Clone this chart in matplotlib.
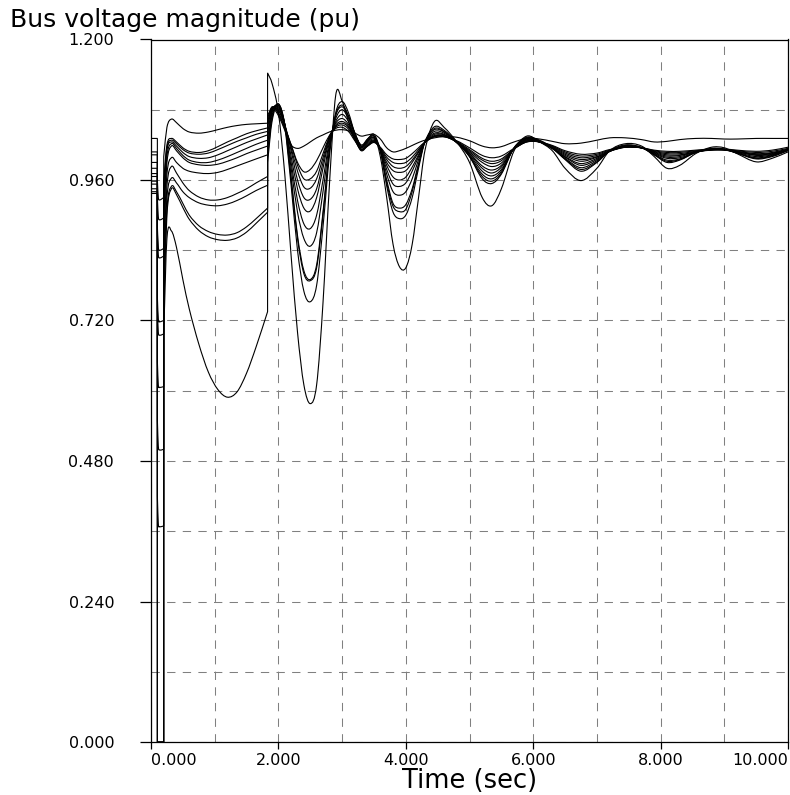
import numpy as np
import matplotlib
matplotlib.use("Agg")
import matplotlib.pyplot as plt
from matplotlib.path import Path
from matplotlib.patches import PathPatch
from matplotlib.ticker import MultipleLocator, FormatStrFormatter

# ---------------------------------------------------------------------------
# Simulation time base (s): pre-fault | fault on | fault cleared | after switching
# ---------------------------------------------------------------------------
t_prefault = [0.0, 0.1]
t_fault = [0.1, 0.115, 0.135, 0.2]
t_cleared = [0.2, 0.25, 0.32, 0.4, 0.5, 0.6, 0.75, 0.9, 1.05, 1.2, 1.35, 1.5, 1.65, 1.83]
t_switched = [1.83, 1.9, 2.0, 2.1, 2.2, 2.3, 2.4, 2.5, 2.6, 2.7,
              2.8, 2.9, 3.0, 3.1, 3.2, 3.3, 3.4, 3.5, 3.6, 3.7,
              3.8, 3.9, 4.0, 4.1, 4.2, 4.3, 4.45, 4.6, 4.8, 5.0,
              5.2, 5.35, 5.5, 5.7, 5.9, 6.1, 6.3, 6.5, 6.75, 7.0,
              7.2, 7.45, 7.7, 7.9, 8.1, 8.3, 8.55, 8.8, 9.0, 9.2,
              9.5, 9.75, 10.0]

# ---------------------------------------------------------------------------
# Bus voltage magnitudes (pu), same layout as the time base above
# ---------------------------------------------------------------------------
bus_01 = ([1.031, 1.031] +
          [0.960, 0.930, 0.926, 0.930] +
          [1.000, 1.050, 1.064, 1.058, 1.048, 1.042, 1.040, 1.042, 1.046, 1.050, 1.053, 1.055, 1.056, 1.057] +
          [1.070, 1.083, 1.070, 1.045, 1.020, 1.014, 1.018, 1.025, 1.032, 1.037,
           1.042, 1.045, 1.046, 1.044, 1.040, 1.035, 1.037, 1.038, 1.030, 1.015,
           1.008, 1.010, 1.014, 1.019, 1.024, 1.028, 1.032, 1.034, 1.033, 1.027,
           1.018, 1.015, 1.017, 1.025, 1.031, 1.030, 1.026, 1.022, 1.023, 1.028,
           1.032, 1.032, 1.029, 1.025, 1.026, 1.029, 1.031, 1.031, 1.030, 1.030,
           1.031, 1.031, 1.031])

bus_02 = ([1.008, 1.008] +
          [0.930, 0.897, 0.892, 0.895] +
          [0.960, 1.020, 1.031, 1.025, 1.015, 1.009, 1.007, 1.010, 1.017, 1.025, 1.032, 1.039, 1.044, 1.049] +
          [1.065, 1.085, 1.073, 1.048, 1.020, 0.990, 0.974, 0.978, 0.993, 1.015,
           1.036, 1.048, 1.050, 1.043, 1.027, 1.012, 1.018, 1.024, 1.016, 1.003,
           0.996, 0.995, 0.997, 1.005, 1.015, 1.025, 1.034, 1.034, 1.027, 1.015,
           1.002, 0.998, 1.001, 1.014, 1.025, 1.025, 1.019, 1.010, 1.004, 1.006,
           1.012, 1.016, 1.015, 1.011, 1.009, 1.009, 1.011, 1.013, 1.013, 1.011,
           1.009, 1.011, 1.016])

bus_03 = ([1.003, 1.003] +
          [0.880, 0.845, 0.840, 0.843] +
          [0.950, 1.015, 1.028, 1.022, 1.012, 1.006, 1.004, 1.006, 1.012, 1.019, 1.026, 1.032, 1.038, 1.043] +
          [1.060, 1.084, 1.075, 1.050, 1.020, 0.985, 0.962, 0.962, 0.975, 1.005,
           1.034, 1.050, 1.054, 1.047, 1.029, 1.010, 1.018, 1.025, 1.015, 0.999,
           0.990, 0.988, 0.990, 0.999, 1.012, 1.024, 1.034, 1.034, 1.026, 1.012,
           0.997, 0.992, 0.996, 1.013, 1.025, 1.025, 1.018, 1.008, 1.001, 1.004,
           1.011, 1.016, 1.015, 1.010, 1.007, 1.007, 1.010, 1.012, 1.012, 1.010,
           1.007, 1.009, 1.014])

bus_04 = ([0.990, 0.990] +
          [0.870, 0.832, 0.827, 0.830] +
          [0.930, 1.010, 1.025, 1.018, 1.007, 1.000, 0.997, 0.998, 1.003, 1.010, 1.017, 1.024, 1.030, 1.037] +
          [1.055, 1.083, 1.078, 1.053, 1.015, 0.975, 0.948, 0.946, 0.962, 0.998,
           1.033, 1.052, 1.057, 1.050, 1.030, 1.011, 1.019, 1.026, 1.014, 0.995,
           0.983, 0.980, 0.983, 0.994, 1.009, 1.024, 1.035, 1.035, 1.025, 1.010,
           0.994, 0.988, 0.993, 1.013, 1.026, 1.025, 1.017, 1.006, 0.998, 1.002,
           1.010, 1.016, 1.015, 1.009, 1.005, 1.005, 1.009, 1.011, 1.011, 1.009,
           1.005, 1.007, 1.013])

bus_05 = ([0.980, 0.980] +
          [0.760, 0.722, 0.718, 0.720] +
          [0.910, 1.000, 1.022, 1.014, 1.002, 0.994, 0.990, 0.990, 0.994, 1.000, 1.007, 1.014, 1.021, 1.028] +
          [1.050, 1.082, 1.080, 1.055, 1.010, 0.960, 0.930, 0.927, 0.945, 0.990,
           1.032, 1.054, 1.060, 1.052, 1.031, 1.012, 1.020, 1.027, 1.013, 0.990,
           0.976, 0.973, 0.976, 0.990, 1.007, 1.024, 1.036, 1.036, 1.025, 1.008,
           0.990, 0.983, 0.989, 1.013, 1.027, 1.025, 1.016, 1.004, 0.995, 1.000,
           1.009, 1.016, 1.015, 1.008, 1.003, 1.003, 1.008, 1.011, 1.011, 1.008,
           1.004, 1.006, 1.012])

bus_06 = ([0.971, 0.971] +
          [0.740, 0.700, 0.695, 0.697] +
          [0.890, 0.990, 1.018, 1.010, 0.998, 0.990, 0.986, 0.985, 0.987, 0.992, 0.998, 1.005, 1.011, 1.018] +
          [1.040, 1.080, 1.083, 1.055, 1.000, 0.945, 0.912, 0.907, 0.930, 0.980,
           1.030, 1.057, 1.065, 1.055, 1.033, 1.013, 1.022, 1.028, 1.012, 0.985,
           0.965, 0.960, 0.965, 0.982, 1.003, 1.024, 1.038, 1.037, 1.024, 1.006,
           0.984, 0.977, 0.985, 1.013, 1.028, 1.025, 1.015, 1.002, 0.992, 0.999,
           1.009, 1.017, 1.015, 1.007, 1.001, 1.002, 1.008, 1.012, 1.012, 1.008,
           1.003, 1.005, 1.012])

bus_07 = ([0.966, 0.966] +
          [0.650, 0.610, 0.606, 0.607] +
          [0.860, 0.970, 0.998, 0.990, 0.980, 0.975, 0.972, 0.971, 0.973, 0.978, 0.984, 0.990, 0.996, 1.003] +
          [1.030, 1.078, 1.085, 1.055, 0.990, 0.925, 0.885, 0.877, 0.900, 0.960,
           1.025, 1.060, 1.072, 1.060, 1.035, 1.015, 1.024, 1.030, 1.012, 0.978,
           0.953, 0.949, 0.955, 0.975, 1.000, 1.025, 1.040, 1.038, 1.024, 1.005,
           0.980, 0.972, 0.982, 1.014, 1.029, 1.025, 1.014, 1.000, 0.988, 0.997,
           1.009, 1.017, 1.015, 1.006, 0.999, 1.000, 1.008, 1.012, 1.012, 1.008,
           1.002, 1.004, 1.012])

bus_08 = ([0.958, 0.958] +
          [0.550, 0.505, 0.499, 0.500] +
          [0.830, 0.950, 0.983, 0.972, 0.955, 0.942, 0.931, 0.926, 0.926, 0.930, 0.937, 0.945, 0.955, 0.966] +
          [1.020, 1.075, 1.087, 1.055, 0.980, 0.905, 0.860, 0.847, 0.870, 0.940,
           1.020, 1.065, 1.080, 1.065, 1.038, 1.017, 1.026, 1.032, 1.012, 0.970,
           0.940, 0.934, 0.940, 0.962, 0.995, 1.025, 1.043, 1.040, 1.024, 1.003,
           0.975, 0.967, 0.978, 1.014, 1.030, 1.025, 1.014, 0.999, 0.985, 0.995,
           1.009, 1.018, 1.015, 1.005, 0.997, 0.998, 1.007, 1.012, 1.012, 1.007,
           1.000, 1.003, 1.011])

bus_09 = ([0.953, 0.953] +
          [0.420, 0.373, 0.368, 0.369] +
          [0.800, 0.930, 0.963, 0.955, 0.940, 0.930, 0.921, 0.917, 0.916, 0.919, 0.925, 0.933, 0.942, 0.951] +
          [1.010, 1.070, 1.088, 1.055, 0.965, 0.865, 0.805, 0.790, 0.815, 0.905,
           1.010, 1.070, 1.085, 1.068, 1.040, 1.018, 1.027, 1.033, 1.010, 0.960,
           0.920, 0.912, 0.918, 0.945, 0.988, 1.025, 1.046, 1.042, 1.024, 1.001,
           0.970, 0.962, 0.975, 1.015, 1.031, 1.026, 1.014, 0.997, 0.981, 0.993,
           1.009, 1.018, 1.015, 1.004, 0.994, 0.996, 1.007, 1.013, 1.012, 1.006,
           0.998, 1.002, 1.011])

bus_10 = ([0.945, 0.945] +
          [0.000, 0.000, 0.000, 0.000] +
          [0.760, 0.910, 0.949, 0.940, 0.920, 0.900, 0.882, 0.872, 0.867, 0.866, 0.870, 0.880, 0.894, 0.912] +
          [1.000, 1.065, 1.090, 1.055, 0.960, 0.860, 0.800, 0.788, 0.810, 0.900,
           1.010, 1.072, 1.088, 1.070, 1.040, 1.018, 1.028, 1.035, 1.010, 0.955,
           0.915, 0.906, 0.910, 0.940, 0.985, 1.025, 1.048, 1.043, 1.024, 1.000,
           0.966, 0.958, 0.972, 1.015, 1.032, 1.027, 1.014, 0.996, 0.978, 0.991,
           1.009, 1.019, 1.015, 1.003, 0.992, 0.995, 1.007, 1.013, 1.012, 1.006,
           0.997, 1.001, 1.011])

bus_11 = ([0.937, 0.937] +
          [0.000, 0.000, 0.000, 0.000] +
          [0.740, 0.900, 0.945, 0.935, 0.913, 0.893, 0.874, 0.863, 0.858, 0.857, 0.861, 0.871, 0.886, 0.905] +
          [0.990, 1.060, 1.090, 1.050, 0.950, 0.840, 0.770, 0.752, 0.780, 0.880,
           1.000, 1.075, 1.094, 1.075, 1.040, 1.020, 1.030, 1.038, 1.010, 0.950,
           0.905, 0.894, 0.900, 0.930, 0.980, 1.025, 1.051, 1.045, 1.025, 1.000,
           0.962, 0.954, 0.970, 1.015, 1.033, 1.028, 1.015, 0.995, 0.975, 0.990,
           1.010, 1.020, 1.016, 1.003, 0.990, 0.994, 1.007, 1.014, 1.013, 1.006,
           0.996, 1.000, 1.010])

bus_12 = ([0.940, 0.940] +
          [0.000, 0.000, 0.000, 0.000] +
          [0.700, 0.860, 0.873, 0.845, 0.790, 0.740, 0.680, 0.632, 0.602, 0.589, 0.598, 0.630, 0.675, 0.735] +
          [1.143, 1.125, 1.075, 0.970, 0.830, 0.700, 0.610, 0.578, 0.610, 0.750,
           0.950, 1.105, 1.095, 1.060, 1.030, 1.015, 1.030, 1.035, 1.000, 0.930,
           0.850, 0.812, 0.810, 0.850, 0.930, 1.010, 1.060, 1.050, 1.025, 0.990,
           0.930, 0.916, 0.945, 1.010, 1.035, 1.025, 1.010, 0.980, 0.959, 0.980,
           1.010, 1.022, 1.018, 1.000, 0.980, 0.985, 1.005, 1.016, 1.015, 1.005,
           0.991, 0.997, 1.008])

buses = [bus_01, bus_02, bus_03, bus_04, bus_05, bus_06,
         bus_07, bus_08, bus_09, bus_10, bus_11, bus_12]

x_ticks = [0, 2, 4, 6, 8, 10]
y_ticks = [0.0, 0.24, 0.48, 0.72, 0.96, 1.2]

# ---------------------------------------------------------------------------
segments = [t_prefault, t_fault, t_cleared, t_switched]


def smooth_trace(values):
    """Cubic Hermite path through each simulation segment; switching
    instants between segments are joined by vertical steps."""
    verts, codes = [], []
    start = 0
    for k, seg_t in enumerate(segments):
        t = np.asarray(seg_t, float)
        v = np.asarray(values[start:start + len(t)], float)
        start += len(t)
        n = len(t)
        m = np.empty(n)
        m[0] = (v[1] - v[0]) / (t[1] - t[0])
        m[-1] = (v[-1] - v[-2]) / (t[-1] - t[-2])
        if n > 2:
            m[1:-1] = (v[2:] - v[:-2]) / (t[2:] - t[:-2])
        verts.append((t[0], v[0]))
        codes.append(Path.MOVETO if k == 0 else Path.LINETO)
        for j in range(n - 1):
            h = t[j + 1] - t[j]
            verts += [(t[j] + h / 3, v[j] + m[j] * h / 3),
                      (t[j + 1] - h / 3, v[j + 1] - m[j + 1] * h / 3),
                      (t[j + 1], v[j + 1])]
            codes += [Path.CURVE4] * 3
    return Path(verts, codes)


plt.rcParams["font.family"] = ["DejaVu Sans"]

fig = plt.figure(figsize=(7.9, 7.95), dpi=100)
ax = fig.add_axes([151 / 790, 1 - 742 / 795, 637 / 790, 702.5 / 795])

for vals in buses:
    ax.add_patch(PathPatch(smooth_trace(vals), facecolor="none",
                           edgecolor="black", linewidth=0.8, zorder=3))

ax.set_xlim(0, 10)
ax.set_ylim(0, 1.2)
ax.set_xticks(x_ticks)
ax.set_yticks(y_ticks)
ax.xaxis.set_minor_locator(MultipleLocator(1))
ax.yaxis.set_minor_locator(MultipleLocator(0.12))
ax.xaxis.set_major_formatter(FormatStrFormatter("%.3f"))
ax.yaxis.set_major_formatter(FormatStrFormatter("%.3f"))

ax.grid(True, which="both", color="#808080", linewidth=0.75,
        linestyle=(0, (8, 7)), zorder=1)
ax.set_axisbelow(True)

ax.tick_params(axis="y", which="major", direction="out", length=8, width=0.9,
               pad=18.5, labelsize=11.5)
ax.tick_params(axis="x", which="major", direction="out", length=5, width=0.9,
               pad=3, labelsize=11.5)
ax.tick_params(which="minor", length=0)

xlabels = ax.get_xticklabels()
xlabels[0].set_horizontalalignment("left")
xlabels[-1].set_horizontalalignment("right")

for side in ("left", "bottom", "top", "right"):
    ax.spines[side].set_linewidth(0.9)
    ax.spines[side].set_color("black")

fig.text(10 / 790, 1 - 27.5 / 795, "Bus voltage magnitude (pu)",
         fontsize=18, ha="left", va="baseline")
fig.text((151 + 788) / 2 / 790, 1 - 788 / 795, "Time (sec)",
         fontsize=18.5, ha="center", va="baseline")

fig.savefig("out.png", dpi=100)
